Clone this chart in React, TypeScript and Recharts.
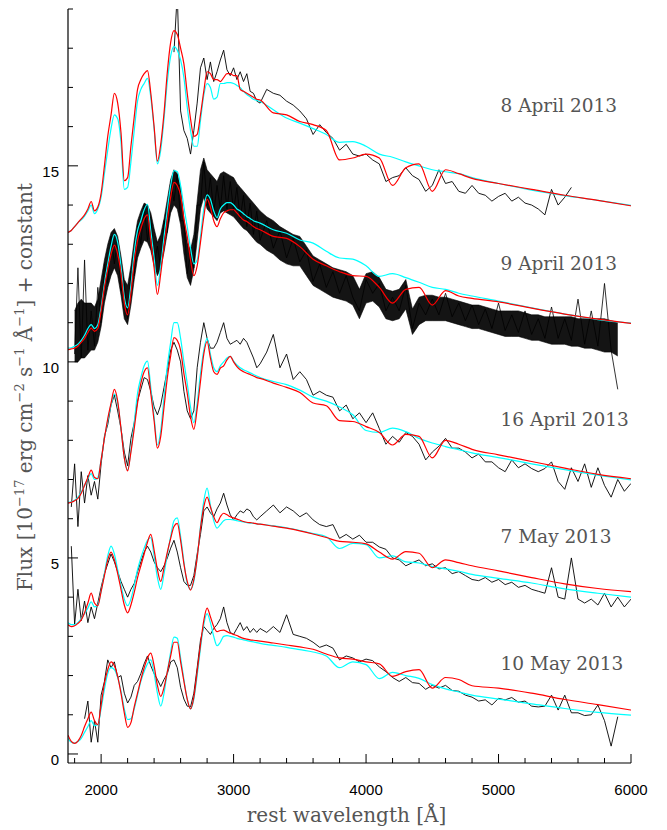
import React from 'react';
import { ComposedChart, Line, Area, XAxis, YAxis, ReferenceDot, Label } from 'recharts';

// ---------- wavelength grids (rest wavelength, Angstrom) ----------
const MODEL_WL = [
  1750, 1775, 1800, 1825, 1850, 1875, 1900, 1925, 1950, 1975,
  2000, 2025, 2050, 2075, 2100, 2125, 2150, 2175, 2200, 2225,
  2250, 2275, 2300, 2325, 2350, 2375, 2400, 2425, 2450, 2475,
  2500, 2525, 2550, 2575, 2600, 2625, 2650, 2675, 2700, 2725,
  2750, 2775, 2800, 2825, 2850, 2875, 2900, 2925, 2950, 2975,
  3000, 3025, 3050, 3075, 3100, 3125, 3150, 3175, 3200,
  3300, 3400, 3500, 3600, 3700, 3800, 3900, 4000, 4100, 4200, 4300, 4400, 4500, 4600, 4700, 4800,
  5000, 5250, 5500, 5750, 6000,
];

const OBS_WL = [
  1775, 1800, 1825, 1850, 1875, 1900, 1925, 1950, 1975, 2000,
  2025, 2050, 2075, 2100, 2125, 2150, 2175, 2200, 2225, 2250,
  2275, 2300, 2325, 2350, 2375, 2400, 2425, 2450, 2475, 2500,
  2525, 2550, 2575, 2600, 2625, 2650, 2675, 2700, 2725, 2750,
  2775, 2800, 2825, 2850, 2875, 2900, 2925, 2950, 2975, 3000,
  3025, 3050, 3075, 3100, 3125, 3150, 3175, 3200,
  3250, 3300, 3350, 3400, 3450, 3500, 3550, 3600, 3650, 3700,
  3750, 3800, 3850, 3900, 3950, 4000, 4050, 4100, 4150, 4200,
  4250, 4300, 4350, 4400, 4450, 4500, 4550, 4600, 4650, 4700,
  4750, 4800, 4850, 4900, 4950, 5000, 5050, 5100, 5150, 5200,
  5250, 5300, 5350, 5400, 5450, 5500, 5550, 5600, 5650, 5700,
  5750, 5800, 5850, 5900, 5950, 6000,
];

// ---------- 8 April 2013 ----------
const APR8_RED = [
  13.30, 13.35, 13.45, 13.55, 13.65, 13.75, 13.90, 14.09, 13.85, 13.95,
  14.30, 15.00, 15.75, 16.30, 16.85, 16.60, 15.85, 14.62, 14.70, 15.50,
  16.25, 16.95, 17.20, 17.35, 17.43, 16.85, 16.00, 15.12, 15.55, 16.35,
  17.40, 18.15, 18.45, 18.35, 18.00, 17.60, 16.85, 16.20, 15.75, 15.80,
  16.30, 16.90, 17.40, 17.35, 17.20, 17.20, 17.15, 17.25, 17.35, 17.35,
  17.30, 17.30, 16.95, 16.90, 16.85, 16.80, 16.75, 16.70, 16.68,
  16.35, 16.30, 16.13, 16.05, 15.90, 15.15, 15.20, 15.30, 15.20, 14.50, 14.95, 15.05, 14.35, 14.90, 14.80, 14.68,
  14.55, 14.40, 14.25, 14.12, 13.98,
];
const APR8_CYAN = [
  13.30, 13.35, 13.45, 13.55, 13.62, 13.72, 13.85, 14.00, 13.78, 13.90,
  14.20, 14.80, 15.40, 15.95, 16.30, 16.20, 15.60, 14.40, 14.45, 15.10,
  15.90, 16.65, 16.95, 17.10, 17.23, 16.75, 15.95, 15.05, 15.40, 16.20,
  17.15, 17.80, 18.04, 17.95, 17.70, 17.25, 16.50, 15.90, 15.50, 15.50,
  16.15, 16.80, 17.10, 17.00, 16.70, 16.75, 17.10, 17.10, 17.12, 17.12,
  17.10, 17.05, 16.99, 16.90, 16.82, 16.76, 16.70, 16.67, 16.64,
  16.43, 16.22, 16.09, 15.95, 15.80, 15.60, 15.62, 15.50, 15.30, 15.22, 15.10, 15.00, 14.90, 14.85, 14.80, 14.70,
  14.55, 14.38, 14.24, 14.12, 13.99,
];
const APR8_OBS = [
  null, null, null, null, null, null, null, null, null, null,
  null, null, null, null, null, null, null, null, null, null,
  null, null, null, null, null, null, null, null, null, null,
  null, 17.9, 19.4, 16.4, 15.9, 15.7, 15.3, 15.9, 16.6, 17.5,
  17.75, 17.2, 17.65, 17.15, 17.4, 17.7, 17.95, 17.45, 17.3, 17.5,
  17.2, 17.4, 17.15, 17.35, 16.9, 16.85, 16.65, 16.6,
  16.95, 16.85, 16.8, 16.65, 16.55, 16.4, 16.2, 15.8, 16.05, 15.85,
  15.7, 15.4, 15.55, 15.3, 15.25, 15.3, 15.15, 15.05, 14.6, 14.7,
  14.75, 14.95, 14.75, 14.65, 14.35, 14.5, 14.9, 14.55, 14.6, 14.35,
  14.3, 14.5, 14.3, 14.25, 14.1, 14.22, 14.3, 14.1, 14.2, 14.05,
  14.0, 13.9, 13.75, 14.4, 14.0, 14.2, 14.45, null, null, null,
  null, null, null, null, null, null,
];

// ---------- 9 April 2013 ----------
const APR9_RED = [
  10.31, 10.33, 10.35, 10.40, 10.50, 10.60, 10.75, 10.86, 10.78, 10.85,
  11.30, 11.90, 12.35, 12.75, 12.98, 12.75, 12.25, 11.50, 11.20, 11.75,
  12.55, 13.10, 13.40, 13.65, 13.75, 13.10, 12.40, 11.72, 12.25, 12.95,
  13.60, 14.20, 14.58, 14.50, 14.25, 13.65, 13.20, 12.60, 12.20, 12.45,
  13.05, 13.70, 14.15, 13.95, 13.60, 13.45, 13.65, 13.80, 13.85, 13.88,
  13.88, 13.80, 13.70, 13.62, 13.58, 13.52, 13.45, 13.40, 13.37,
  13.20, 13.15, 12.94, 12.62, 12.45, 12.30, 12.20, 12.18, 11.90, 11.50, 11.85, 11.90, 11.45, 11.82, 11.68, 11.62,
  11.53, 11.37, 11.22, 11.09, 10.98,
];
const APR9_CYAN = [
  10.35, 10.36, 10.40, 10.45, 10.55, 10.68, 10.85, 10.95, 10.85, 10.95,
  11.40, 12.00, 12.50, 12.95, 13.25, 13.05, 12.45, 11.65, 11.38, 11.95,
  12.80, 13.35, 13.60, 13.88, 14.02, 13.35, 12.65, 11.95, 12.45, 13.20,
  13.90, 14.50, 14.88, 14.85, 14.50, 13.95, 13.45, 12.90, 12.50, 12.60,
  13.20, 13.90, 14.26, 14.15, 13.85, 13.68, 13.90, 14.00, 14.06, 14.06,
  14.00, 13.90, 13.85, 13.78, 13.71, 13.66, 13.60, 13.57, 13.54,
  13.37, 13.28, 13.11, 13.03, 12.82, 12.65, 12.62, 12.45, 12.18, 12.25, 12.15, 12.03, 11.90, 11.85, 11.75, 11.68,
  11.55, 11.38, 11.22, 11.08, 10.99,
];
// spiky trace of the 9 April spectrum
const APR9_OBS = [
  null, 10.2, 12.4, 10.1, 12.6, 10.3, 11.3, 10.4, 11.9, 11.0,
  12.5, 12.0, 13.2, 12.5, 13.1, 11.8, 12.0, 11.1, 12.3, 12.2,
  13.5, 13.0, 14.0, 13.1, 13.7, 12.5, 12.95, 12.4, 13.6, 13.3,
  14.6, 14.1, 14.8, 13.6, 13.6, 12.25, 12.75, 12.4, 14.0, 14.0,
  15.1, 14.0, 14.7, 13.8, 14.5, 13.9, 14.75, 13.9, 14.6, 13.85,
  14.45, 13.65, 14.25, 13.45, 14.05, 13.25, 13.85, 13.1,
  13.6, 12.9, 13.35, 12.65, 13.15, 12.55, 12.85, 12.05, 12.5, 11.9,
  12.3, 11.75, 12.2, 11.65, 11.3, 12.1, 11.75, 12.0, 11.3, 11.65,
  11.3, 11.95, 10.85, 11.5, 11.2, 11.6, 11.2, 11.75, 11.15, 11.5,
  11.05, 11.45, 10.95, 11.35, 10.85, 11.5, 10.8, 11.2, 10.75, 11.3,
  10.7, 11.1, 10.6, 11.4, 10.6, 11.1, 10.55, 11.6, 10.45, 11.3,
  10.4, 12.0, 10.3, 9.3, null, null,
];
// dense part of the 9 April noise band: lower and upper edges
const APR9_LO = [
  null, 10.0, 10.0, 10.1, 10.1, 10.2, 10.3, 10.3, 10.5, 10.9,
  11.5, 11.9, 12.2, 12.4, 12.2, 11.7, 11.1, 10.95, 11.45, 12.1,
  12.65, 12.9, 13.1, 13.05, 12.85, 12.45, 12.2, 12.4, 12.8, 13.3,
  13.8, 14.0, 13.9, 13.5, 12.75, 12.15, 11.95, 12.35, 13.1, 13.9,
  14.2, 13.9, 13.8, 13.7, 13.6, 13.8, 13.85, 13.8, 13.75, 13.7,
  13.6, 13.5, 13.4, 13.35, 13.25, 13.15, 13.05, 13.0,
  12.85, 12.75, 12.6, 12.5, 12.45, 12.45, 12.2, 11.95, 11.85, 11.75,
  11.65, 11.6, 11.55, 11.45, 11.1, 11.5, 11.55, 11.4, 11.1, 11.05,
  11.1, 11.35, 10.7, 10.95, 11.05, 11.05, 11.05, 11.05, 11.0, 10.95,
  10.9, 10.85, 10.85, 10.8, 10.75, 10.7, 10.65, 10.65, 10.65, 10.6,
  10.55, 10.55, 10.5, 10.45, 10.45, 10.45, 10.4, 10.4, 10.35, 10.35,
  10.3, 10.25, 10.25, 10.15, null, null,
];
const APR9_HI = [
  null, 11.3, 11.5, 11.6, 11.5, 11.5, 11.5, 11.4, 11.6, 12.1,
  12.6, 13.0, 13.3, 13.4, 13.2, 12.7, 12.1, 11.95, 12.45, 13.1,
  13.6, 13.85, 14.05, 14.0, 13.8, 13.4, 13.05, 13.25, 13.65, 14.15,
  14.65, 14.9, 14.8, 14.45, 13.65, 13.05, 12.85, 13.25, 14.1, 14.9,
  15.2, 14.9, 14.8, 14.7, 14.6, 14.8, 14.85, 14.8, 14.75, 14.7,
  14.55, 14.45, 14.35, 14.25, 14.15, 14.05, 13.95, 13.85,
  13.7, 13.6, 13.45, 13.35, 13.25, 13.2, 12.95, 12.7, 12.6, 12.5,
  12.4, 12.35, 12.3, 12.2, 11.85, 12.25, 12.3, 12.15, 11.85, 11.8,
  11.85, 12.1, 11.35, 11.65, 11.7, 11.7, 11.65, 11.65, 11.6, 11.55,
  11.5, 11.45, 11.45, 11.4, 11.35, 11.3, 11.3, 11.3, 11.3, 11.25,
  11.2, 11.2, 11.15, 11.15, 11.15, 11.15, 11.15, 11.1, 11.1, 11.1,
  11.1, 11.1, 11.05, 11.0, null, null,
];

// ---------- 16 April 2013 ----------
const APR16_RED = [
  6.40, 6.42, 6.46, 6.52, 6.65, 6.85, 7.05, 7.24, 7.05, 7.02,
  7.50, 8.05, 8.55, 8.95, 9.30, 9.00, 8.30, 7.55, 7.22, 7.70,
  8.30, 8.95, 9.45, 9.75, 9.85, 9.20, 8.50, 7.80, 8.10, 8.85,
  9.60, 10.15, 10.62, 10.55, 10.30, 9.70, 9.20, 8.60, 8.28, 8.80,
  9.50, 10.20, 10.52, 10.10, 9.75, 9.68, 9.84, 9.90, 10.05, 10.14,
  10.00, 9.88, 9.80, 9.75, 9.71, 9.68, 9.64, 9.60, 9.58,
  9.46, 9.35, 9.22, 8.95, 8.88, 8.50, 8.48, 8.35, 8.20, 7.88, 8.15, 8.10, 7.55, 8.00, 7.90, 7.77,
  7.63, 7.46, 7.29, 7.13, 7.02,
];
const APR16_CYAN = [
  6.42, 6.43, 6.47, 6.55, 6.68, 6.85, 7.02, 7.15, 7.00, 7.05,
  7.50, 8.05, 8.50, 8.90, 9.18, 8.95, 8.30, 7.55, 7.24, 7.75,
  8.45, 9.20, 9.60, 9.90, 10.02, 9.35, 8.60, 7.88, 8.25, 9.10,
  9.90, 10.50, 11.00, 11.00, 10.60, 10.00, 9.45, 8.85, 8.45, 8.95,
  9.70, 10.30, 10.60, 10.20, 9.85, 9.75, 9.90, 10.00, 10.10, 10.14,
  10.02, 9.92, 9.85, 9.80, 9.76, 9.72, 9.68, 9.64, 9.60,
  9.50, 9.42, 9.28, 9.10, 9.00, 8.85, 8.65, 8.25, 8.20, 8.31, 8.22, 8.05, 7.93, 7.84, 7.76, 7.68,
  7.56, 7.40, 7.25, 7.11, 6.99,
];
const APR16_OBS = [
  6.3, 7.4, 5.8, 7.2, 6.4, 7.1, 6.6, 6.95, 6.5, 7.4,
  8.1, 8.4, 8.9, 9.15, 8.75, 8.3, 7.7, 7.35, 8.05, 8.45,
  9.0, 9.3, 9.6, 9.55, 9.25, 8.85, 8.65, 8.9, 9.35, 9.8,
  10.3, 10.5, 10.3, 10.0, 9.25, 8.75, 8.55, 8.75, 9.85, 10.5,
  11.0, 10.6, 10.35, 10.35, 10.5, 10.75, 11.0, 10.6, 10.45, 10.5,
  10.55, 10.45, 10.6, 10.5, 10.3, 10.1, 9.85, 9.95,
  10.25, 10.7, 9.85, 10.2, 9.55, 9.75, 9.55, 9.15, 9.25, 9.15,
  9.1, 8.75, 8.9, 8.55, 8.7, 8.45, 8.7, 8.3, 7.9, 8.1,
  7.95, 8.2, 8.1, 7.9, 7.5, 7.7, 7.85, 8.05, 7.8, 7.8,
  7.7, 7.55, 7.65, 7.45, 7.45, 7.3, 7.2, 7.5, 7.3, 7.4,
  7.28, 7.2, 7.28, 7.45, 6.95, 6.75, 7.3, 6.95, 7.4, 6.8,
  7.3, 6.85, 6.55, 7.0, 6.7, 6.9,
];

// ---------- 7 May 2013 ----------
const MAY7_RED = [
  3.30, 3.25, 3.27, 3.33, 3.42, 3.60, 3.85, 4.10, 3.85, 3.78,
  4.15, 4.55, 4.95, 5.15, 4.95, 4.60, 4.20, 3.80, 3.60, 3.80,
  4.12, 4.50, 4.80, 5.10, 5.40, 5.60, 5.20, 4.70, 4.40, 4.75,
  5.15, 5.50, 5.80, 5.88, 5.45, 4.85, 4.40, 4.18, 4.45, 5.00,
  5.75, 6.30, 6.55, 6.30, 6.05, 5.90, 6.05, 6.14, 6.10, 6.05,
  6.02, 5.99, 5.96, 5.93, 5.91, 5.90, 5.89, 5.87, 5.86,
  5.81, 5.76, 5.69, 5.61, 5.52, 5.42, 5.40, 5.36, 5.15, 4.97, 5.16, 5.12, 4.75, 4.95, 4.88, 4.80,
  4.67, 4.50, 4.34, 4.22, 4.14,
];
const MAY7_CYAN = [
  3.35, 3.30, 3.30, 3.35, 3.45, 3.58, 3.72, 3.88, 3.75, 3.80,
  4.15, 4.60, 5.05, 5.30, 5.10, 4.70, 4.30, 3.95, 3.78, 3.95,
  4.30, 4.70, 5.00, 5.25, 5.45, 5.52, 5.05, 4.50, 4.20, 4.60,
  5.10, 5.55, 5.95, 6.02, 5.55, 4.90, 4.35, 4.20, 4.40, 5.00,
  5.80, 6.45, 6.78, 6.35, 5.95, 5.76, 5.85, 5.95, 5.98, 5.98,
  5.97, 5.95, 5.93, 5.92, 5.90, 5.89, 5.88, 5.87, 5.86,
  5.82, 5.77, 5.70, 5.62, 5.54, 5.24, 5.37, 5.34, 5.00, 5.05, 4.90, 4.87, 4.78, 4.72, 4.66, 4.58,
  4.48, 4.36, 4.21, 4.10, 4.00,
];
const MAY7_OBS = [
  5.3, 3.3, 4.2, 3.4, 3.9, 3.35, 3.75, 3.45, 3.85, 4.25,
  4.6, 4.85, 5.1, 4.9, 4.65, 4.4, 4.2, 4.0, 4.2, 4.35,
  4.65, 4.9, 5.15, 5.3, 5.15, 4.9, 4.75, 4.65, 4.8, 5.0,
  5.25, 5.45, 5.15, 4.75, 4.4, 4.3, 4.3, 4.55, 5.1, 5.6,
  6.2, 6.3, 6.15, 6.05, 6.25, 6.4, 6.65, 6.35, 6.1, 5.97,
  6.1, 6.2, 6.15, 6.25, 6.2, 6.05, 5.97, 6.05,
  6.2, 6.35, 6.15, 6.3, 6.2, 6.05, 6.15, 5.97, 5.85, 5.8,
  5.85, 5.5, 5.6, 5.48, 5.58, 5.4, 5.4, 5.28, 5.22, 5.0,
  4.95, 4.8, 4.88, 4.95, 4.8, 4.85, 4.72, 4.75, 4.6, 4.65,
  4.55, 4.45, 4.42, 4.5, 4.38, 4.45, 4.32, 4.38, 4.25, 4.3,
  4.2, 4.15, 4.1, 4.75, 4.0, 3.95, 5.0, 3.95, 3.85, 3.95,
  3.8, 4.1, 3.75, 4.0, 3.75, 3.95,
];

// ---------- 10 May 2013 ----------
const MAY10_RED = [
  0.48, 0.32, 0.27, 0.33, 0.47, 0.70, 0.90, 1.07, 0.85, 0.75,
  1.25, 1.80, 2.15, 2.35, 2.25, 1.98, 1.55, 1.05, 0.68, 0.80,
  1.20, 1.55, 1.90, 2.20, 2.45, 2.57, 2.25, 1.75, 1.47, 1.70,
  2.10, 2.50, 2.85, 2.85, 2.35, 1.85, 1.40, 1.15, 1.45, 2.10,
  2.78, 3.40, 3.72, 3.50, 3.25, 3.12, 3.15, 3.16, 3.12, 3.08,
  3.05, 3.02, 2.98, 2.95, 2.93, 2.91, 2.90, 2.89, 2.88,
  2.83, 2.78, 2.73, 2.67, 2.55, 2.45, 2.42, 2.35, 2.30, 1.98, 2.10, 2.15, 1.68, 1.95, 1.90, 1.74,
  1.68, 1.55, 1.39, 1.26, 1.12,
];
const MAY10_CYAN = [
  0.40, 0.30, 0.28, 0.32, 0.40, 0.55, 0.70, 0.85, 0.72, 0.75,
  1.15, 1.65, 2.05, 2.20, 2.15, 1.95, 1.60, 1.15, 0.88, 0.90,
  1.15, 1.50, 1.85, 2.10, 2.30, 2.40, 2.05, 1.55, 1.22, 1.55,
  2.10, 2.60, 2.98, 2.95, 2.45, 1.90, 1.40, 1.15, 1.40, 2.00,
  2.70, 3.30, 3.58, 3.35, 3.00, 2.76, 2.85, 3.00, 3.02, 3.00,
  2.98, 2.95, 2.93, 2.91, 2.89, 2.87, 2.86, 2.84, 2.82,
  2.77, 2.72, 2.66, 2.60, 2.50, 2.20, 2.35, 2.28, 1.92, 2.08, 2.00, 1.93, 1.77, 1.66, 1.58, 1.50,
  1.40, 1.28, 1.16, 1.06, 0.99,
];
const MAY10_OBS = [
  null, null, null, null, 0.9, 1.35, 0.3, 0.85, 0.3, 1.5,
  1.85, 2.4, 2.2, 2.35, 1.95, 2.0, 1.55, 1.3, 1.45, 1.75,
  1.85, 2.05, 2.3, 2.5, 2.25, 2.05, 1.9, 1.72, 1.9, 2.05,
  2.35, 2.4, 2.2, 1.7, 1.4, 1.22, 1.2, 1.55, 2.2, 2.9,
  3.25, 3.15, 3.05, 3.2, 3.3, 3.45, 3.75, 3.35, 3.1, 3.05,
  3.2, 3.35, 3.15, 3.25, 3.1, 3.2, 3.1, 3.2,
  3.1, 3.25, 3.1, 3.55, 3.05, 3.0, 2.95, 2.85, 2.72, 2.78,
  2.7, 2.4, 2.5, 2.45, 2.35, 2.42, 2.38, 2.22, 2.1, 1.95,
  1.85, 1.95, 1.82, 1.8, 1.65, 1.75, 1.68, 1.75, 1.62, 1.6,
  1.5, 1.45, 1.35, 1.38, 1.25, 1.42, 1.38, 1.44, 1.32, 1.35,
  1.22, 1.2, 1.22, 1.5, 1.12, 1.5, 1.05, 1.05, 0.98, 1.0,
  1.25, 0.85, 0.2, 0.95, null, null,
];

// ---------- axes / labels ----------
const X_TICKS = [1800, 2000, 2200, 2400, 2600, 2800, 3000, 3200, 3400, 3600, 3800, 4000, 4200, 4400, 4600, 4800, 5000, 5200, 5400, 5600, 5800, 6000];
const Y_TICKS = [0, 1, 2, 3, 4, 5, 6, 7, 8, 9, 10, 11, 12, 13, 14, 15, 16, 17, 18, 19];
const X_DOMAIN = [1750, 6000];
const Y_DOMAIN = [-0.23, 19.0];

const EPOCH_NAMES = ['8 April 2013', '9 April 2013', '16 April 2013', '7 May 2013', '10 May 2013'];
const EPOCH_LABEL_Y = [16.38, 12.35, 8.37, 5.38, 2.14];
const EPOCH_LABEL_X = 5015;

const SERIES = [
  { obs: APR8_OBS, red: APR8_RED, cyan: APR8_CYAN, w: 0.9 },
  { obs: APR9_OBS, red: APR9_RED, cyan: APR9_CYAN, w: 0.8 },
  { obs: APR16_OBS, red: APR16_RED, cyan: APR16_CYAN, w: 0.9 },
  { obs: MAY7_OBS, red: MAY7_RED, cyan: MAY7_CYAN, w: 0.9 },
  { obs: MAY10_OBS, red: MAY10_RED, cyan: MAY10_CYAN, w: 0.9 },
];

function pts(wl: number[], vals: (number | null)[]) {
  const out: { w: number; v: number }[] = [];
  wl.forEach((w, i) => {
    const v = vals[i];
    if (v !== null && v !== undefined) out.push({ w, v });
  });
  return out;
}
function band(wl: number[], lo: (number | null)[], hi: (number | null)[]) {
  const out: { w: number; r: [number, number] }[] = [];
  wl.forEach((w, i) => {
    const a = lo[i];
    const b = hi[i];
    if (a !== null && b !== null && a !== undefined && b !== undefined) out.push({ w, r: [a, b] });
  });
  return out;
}

const TICK_FONT = "'Liberation Sans', Arial, Helvetica, sans-serif";
const TITLE_FONT = "'DejaVu Serif', serif";
const TITLE_COLOR = '#555';

function BottomTick(props: any) {
  const { x, y, payload } = props;
  const major = payload.value % 1000 === 0;
  return (
    <g>
      <line x1={x} x2={x} y1={y} y2={y - (major ? 9 : 5)} stroke="#000" strokeWidth={1} />
      {major && (
        <text x={x} y={y + 32} textAnchor="middle" fontFamily={TICK_FONT} fontSize={15} fill="#000">
          {payload.value}
        </text>
      )}
    </g>
  );
}
function TopTick(props: any) {
  const { x, y, payload } = props;
  const major = payload.value % 1000 === 0;
  return <line x1={x} x2={x} y1={y} y2={y + (major ? 9 : 5)} stroke="#000" strokeWidth={1} />;
}
function LeftTick(props: any) {
  const { x, y, payload } = props;
  const major = payload.value % 5 === 0;
  return (
    <g>
      <line x1={x} x2={x + (major ? 10 : 5)} y1={y} y2={y} stroke="#000" strokeWidth={1} />
      {major && (
        <text x={x - 9} y={y + 11} textAnchor="end" fontFamily={TICK_FONT} fontSize={15} fill="#000">
          {payload.value}
        </text>
      )}
    </g>
  );
}
function RightTick(props: any) {
  const { x, y, payload } = props;
  const major = payload.value % 5 === 0;
  return <line x1={x} x2={x - (major ? 9 : 5)} y1={y} y2={y} stroke="#000" strokeWidth={1} />;
}

function YTitle(props: any) {
  const vb = props.viewBox || { x: 0, y: 9, width: 68, height: 754 };
  const cx = vb.x + 32;
  const cy = vb.y + vb.height / 2 + 1;
  return (
    <text
      x={cx}
      y={cy}
      transform={`rotate(-90 ${cx} ${cy})`}
      textAnchor="middle"
      fontFamily={TITLE_FONT}
      fontSize={20}
      fill={TITLE_COLOR}
    >
      Flux [10<tspan fontSize={13} dy={-8}>−17</tspan>
      <tspan dy={8}> erg cm</tspan>
      <tspan fontSize={13} dy={-8}>−2</tspan>
      <tspan dy={8}> s</tspan>
      <tspan fontSize={13} dy={-8}>−1</tspan>
      <tspan dy={8}> Å</tspan>
      <tspan fontSize={13} dy={-8}>−1</tspan>
      <tspan dy={8}>] + constant</tspan>
    </text>
  );
}

function XTitle(props: any) {
  const vb = props.viewBox || { x: 68, y: 763, width: 563, height: 67 };
  return (
    <text x={vb.x + vb.width / 2 - 3} y={vb.y + 59} textAnchor="middle" fontFamily={TITLE_FONT} fontSize={20} fill={TITLE_COLOR}>
      rest wavelength [Å]
    </text>
  );
}

export default function App() {
  return (
    <div style={{ position: 'absolute', left: 0, top: 0, width: 667, height: 830, background: '#fff' }}>
      <ComposedChart width={667} height={830} margin={{ top: 9, right: 36, bottom: 0, left: 0 }}>
        <XAxis
          xAxisId="b"
          type="number"
          dataKey="w"
          domain={X_DOMAIN}
          allowDataOverflow
          ticks={X_TICKS}
          interval={0}
          height={67}
          tickSize={0}
          tickMargin={0}
          tickLine={false}
          axisLine={{ stroke: '#000', strokeWidth: 1.2 }}
          tick={<BottomTick />}
        >
          <Label content={<XTitle />} />
        </XAxis>
        <XAxis
          xAxisId="t"
          orientation="top"
          type="number"
          dataKey="w"
          domain={X_DOMAIN}
          allowDataOverflow
          ticks={X_TICKS}
          interval={0}
          height={0}
          tickSize={0}
          tickMargin={0}
          tickLine={false}
          axisLine={{ stroke: '#000', strokeWidth: 1.2 }}
          tick={<TopTick />}
        />
        <YAxis
          yAxisId="l"
          type="number"
          domain={Y_DOMAIN}
          allowDataOverflow
          ticks={Y_TICKS}
          interval={0}
          width={68}
          tickSize={0}
          tickMargin={0}
          tickLine={false}
          axisLine={{ stroke: '#000', strokeWidth: 1.2 }}
          tick={<LeftTick />}
        >
          <Label content={<YTitle />} />
        </YAxis>
        <YAxis
          yAxisId="r"
          orientation="right"
          type="number"
          domain={Y_DOMAIN}
          allowDataOverflow
          ticks={Y_TICKS}
          interval={0}
          width={0}
          tickSize={0}
          tickMargin={0}
          tickLine={false}
          axisLine={{ stroke: '#000', strokeWidth: 1.2 }}
          tick={<RightTick />}
        />

        <Area
          xAxisId="b"
          yAxisId="l"
          data={band(OBS_WL, APR9_LO, APR9_HI)}
          dataKey="r"
          stroke="#000"
          strokeWidth={0.6}
          fill="#000"
          fillOpacity={0.92}
          dot={false}
          activeDot={false}
          isAnimationActive={false}
          type="linear"
        />

        {SERIES.map((s, i) => (
          <Line
            key={`obs${i}`}
            xAxisId="b"
            yAxisId="l"
            data={pts(OBS_WL, s.obs)}
            dataKey="v"
            stroke="#000"
            strokeWidth={s.w}
            dot={false}
            activeDot={false}
            isAnimationActive={false}
            type="linear"
          />
        ))}
        {SERIES.map((s, i) => (
          <Line
            key={`cyan${i}`}
            xAxisId="b"
            yAxisId="l"
            data={pts(MODEL_WL, s.cyan)}
            dataKey="v"
            stroke="#00ffff"
            strokeWidth={1.2}
            dot={false}
            activeDot={false}
            isAnimationActive={false}
            type="monotone"
          />
        ))}
        {SERIES.map((s, i) => (
          <Line
            key={`red${i}`}
            xAxisId="b"
            yAxisId="l"
            data={pts(MODEL_WL, s.red)}
            dataKey="v"
            stroke="#ff0000"
            strokeWidth={1.2}
            dot={false}
            activeDot={false}
            isAnimationActive={false}
            type="monotone"
          />
        ))}

        {EPOCH_NAMES.map((name, i) => (
          <ReferenceDot
            key={name}
            xAxisId="b"
            yAxisId="l"
            x={EPOCH_LABEL_X}
            y={EPOCH_LABEL_Y[i]}
            r={0}
            shape={(p: any) => (
              <text x={p.cx} y={p.cy} fontFamily={TITLE_FONT} fontSize={18.5} fill={TITLE_COLOR}>
                {name}
              </text>
            )}
          />
        ))}
      </ComposedChart>
    </div>
  );
}
